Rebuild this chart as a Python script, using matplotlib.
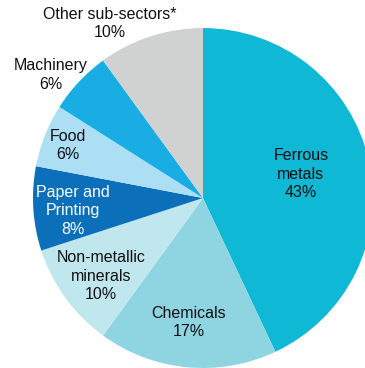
import matplotlib.pyplot as plt

# data
sectors = ["Ferrous\nmetals", "Chemicals", "Non-metallic\nminerals", "Paper and\nPrinting",
           "Food", "Machinery", "Other sub-sectors*"]
shares = [43, 17, 10, 8, 6, 6, 10]
colors = ["#0fb8d4", "#8fd5e1", "#c0e6ee", "#0b6fb9", "#acdff4", "#19ade3", "#d0d1d1"]
text_colors = ["#111111", "#111111", "#111111", "white", "#111111", "#111111", "#111111"]
label_pos = [(0.576, 0.141), (-0.082, -0.732), (-0.60, -0.459), (-0.765, -0.076),
             (-0.797, 0.309), (-0.894, 0.724), (-0.547, 1.026)]

plt.rcParams['font.family'] = ['Liberation Sans', 'DejaVu Sans']

fig = plt.figure(figsize=(3.65, 3.68), dpi=100)
ax = fig.add_axes([0, 0, 1, 1])
ax.pie(shares, colors=colors, startangle=90, counterclock=False, radius=1,
       wedgeprops=dict(linewidth=0))

# labels
for name, val, (x, y), tc in zip(sectors, shares, label_pos, text_colors):
    ax.text(x, y, f"{name}\n{val}%", ha="center", va="center", fontsize=11.5,
            color=tc, linespacing=1.28)

ax.set_xlim(-1.194, 0.953)
ax.set_ylim(-1.0, 1.165)
ax.set_aspect("auto")
ax.axis("off")
fig.savefig("out.png", dpi=100)
